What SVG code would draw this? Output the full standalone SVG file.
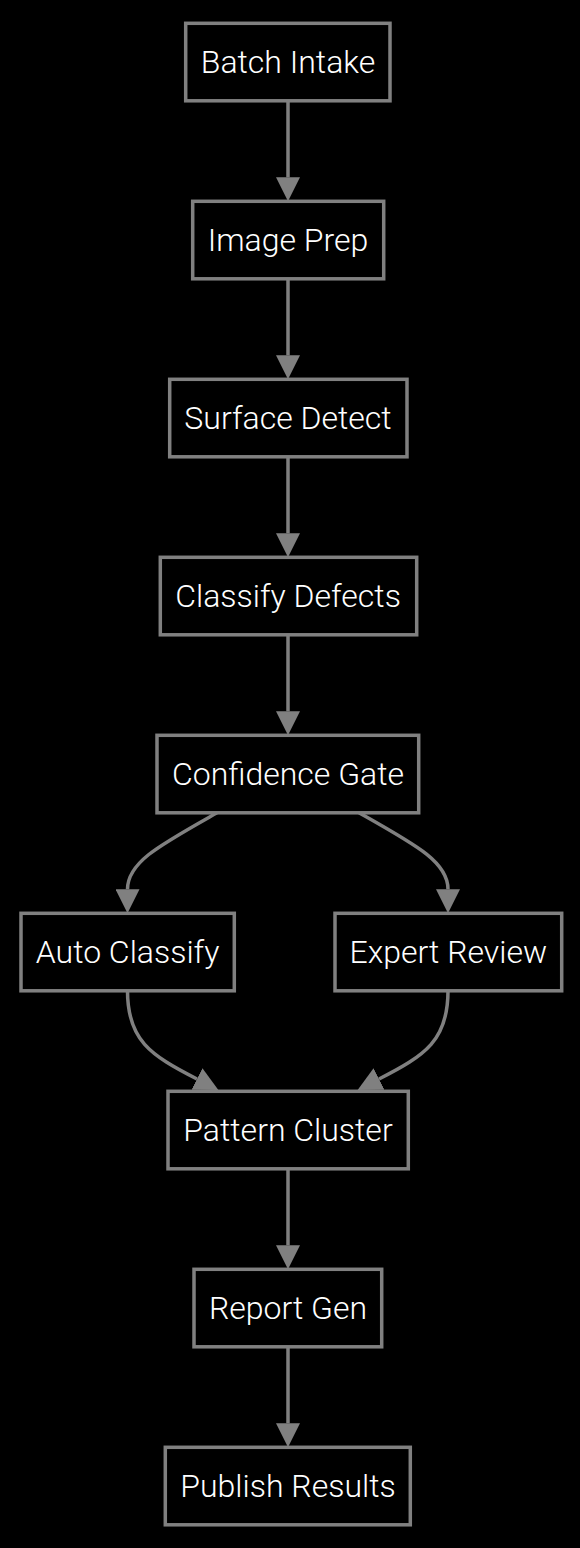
<svg xmlns="http://www.w3.org/2000/svg" width="580" height="1548" viewBox="0 0 580 1548">
<style>
.bg{fill:#000}
.node rect{fill:#000;stroke:#808080;stroke-width:3.5}
.node text{fill:#ffffff;font-family:Roboto,"Liberation Sans",sans-serif;font-size:32px;font-weight:300;text-anchor:middle}
.edge{fill:none;stroke:#808080;stroke-width:3.5}
</style>
<defs>
<marker id="arrow" viewBox="0 0 10 10" refX="0" refY="5" markerUnits="userSpaceOnUse" markerWidth="24" markerHeight="24" orient="auto">
<path d="M0,0 L10,5 L0,10 z" fill="#808080"/>
</marker>
</defs>
<rect class="bg" x="0" y="0" width="580" height="1548"/>
<g id="connectors">
<path class="edge" d="M288,100.8 L288,177.3" marker-end="url(#arrow)"/>
<path class="edge" d="M288,278.8 L288,355.3" marker-end="url(#arrow)"/>
<path class="edge" d="M288,456.8 L288,533.3" marker-end="url(#arrow)"/>
<path class="edge" d="M288,634.8 L288,711.3" marker-end="url(#arrow)"/>
<path class="edge" d="M217,812.8 C160,845 127.5,862 127.5,889.3" marker-end="url(#arrow)"/>
<path class="edge" d="M359,812.8 C416,845 448,862 448,889.3" marker-end="url(#arrow)"/>
<path class="edge" d="M127.5,990.8 C127.5,1040 150,1055 197,1079" marker-end="url(#arrow)"/>
<path class="edge" d="M448,990.8 C448,1040 426,1055 379,1079" marker-end="url(#arrow)"/>
<path class="edge" d="M288,1168.8 L288,1245.3" marker-end="url(#arrow)"/>
<path class="edge" d="M288,1346.8 L288,1423.3" marker-end="url(#arrow)"/>
</g>
<g id="batch-intake" class="node"><rect x="185.7" y="23.3" width="204.3" height="77.5"/><text x="288" y="73.2">Batch Intake</text></g>
<g id="image-prep" class="node"><rect x="192.7" y="201.3" width="191" height="77.5"/><text x="288" y="251.2">Image Prep</text></g>
<g id="surface-detect" class="node"><rect x="169.7" y="379.3" width="237.3" height="77.5"/><text x="288" y="429.2">Surface Detect</text></g>
<g id="classify-defects" class="node"><rect x="160.3" y="557.3" width="256.4" height="77.5"/><text x="288" y="607.2">Classify Defects</text></g>
<g id="confidence-gate" class="node"><rect x="157" y="735.3" width="261.7" height="77.5"/><text x="288" y="785.2">Confidence Gate</text></g>
<g id="auto-classify" class="node"><rect x="21" y="913.3" width="213.3" height="77.5"/><text x="127.6" y="963.2">Auto Classify</text></g>
<g id="expert-review" class="node"><rect x="335" y="913.3" width="226.7" height="77.5"/><text x="448.3" y="963.2">Expert Review</text></g>
<g id="pattern-cluster" class="node"><rect x="168" y="1091.3" width="240.3" height="77.5"/><text x="288" y="1141.2">Pattern Cluster</text></g>
<g id="report-gen" class="node"><rect x="194" y="1269.3" width="187.7" height="77.5"/><text x="288" y="1319.2">Report Gen</text></g>
<g id="publish-results" class="node"><rect x="165.3" y="1447.3" width="245" height="77.5"/><text x="288" y="1497.2">Publish Results</text></g>
</svg>
